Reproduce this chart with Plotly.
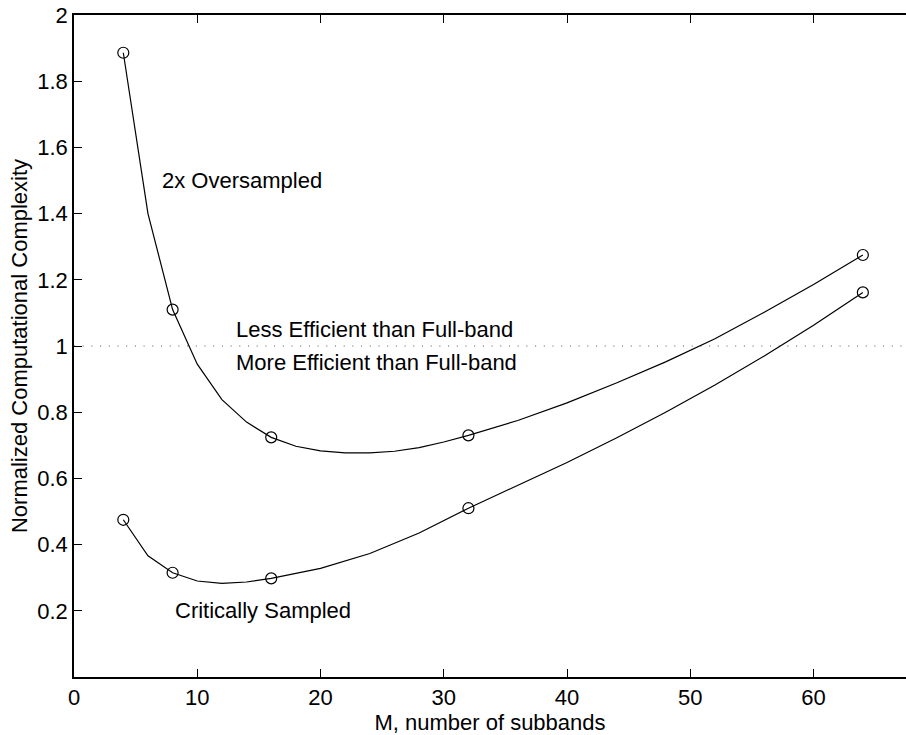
import plotly.graph_objects as go

# Measured points (number of subbands M vs. normalized complexity)
m_points = [4, 8, 16, 32, 64]
oversampled_points = [1.886, 1.11, 0.724, 0.730, 1.275]
critical_points = [0.475, 0.315, 0.298, 0.510, 1.162]

# Finely sampled complexity curves
m_curve_over = [4, 6, 8, 10, 12, 14, 16, 18, 20, 22, 24, 26, 28, 30, 32,
                36, 40, 44, 48, 52, 56, 60, 64]
oversampled_curve = [1.886, 1.40, 1.11, 0.945, 0.838, 0.770, 0.724, 0.697,
                     0.683, 0.677, 0.677, 0.682, 0.693, 0.710, 0.730,
                     0.775, 0.828, 0.888, 0.952, 1.022, 1.102, 1.186, 1.275]
m_curve_crit = [4, 6, 8, 10, 12, 14, 16, 20, 24, 28, 32,
                36, 40, 44, 48, 52, 56, 60, 64]
critical_curve = [0.475, 0.366, 0.315, 0.290, 0.283, 0.287, 0.298, 0.328,
                  0.373, 0.435, 0.510, 0.578, 0.648, 0.722, 0.800, 0.882,
                  0.970, 1.063, 1.162]

# Full-band reference level
fullband_x = [0, 70]
fullband_y = [1.0, 1.0]

x_ticks = [0, 10, 20, 30, 40, 50, 60]
y_ticks = [0.2, 0.4, 0.6, 0.8, 1, 1.2, 1.4, 1.6, 1.8, 2]
y_tick_text = ["0.2", "0.4", "0.6", "0.8", "1", "1.2", "1.4", "1.6", "1.8", "2"]

FONT = "Liberation Sans, Arial, Helvetica, sans-serif"
FS = 22

fig = go.Figure()

fig.add_trace(go.Scatter(x=fullband_x, y=fullband_y, mode="lines",
                         line=dict(color="#555555", width=1, dash="1px,7.7px"),
                         hoverinfo="skip"))
fig.add_trace(go.Scatter(x=m_curve_over, y=oversampled_curve, mode="lines",
                         line=dict(color="black", width=1.2)))
fig.add_trace(go.Scatter(x=m_curve_crit, y=critical_curve, mode="lines",
                         line=dict(color="black", width=1.2)))
fig.add_trace(go.Scatter(x=m_points, y=oversampled_points, mode="markers",
                         marker=dict(symbol="circle-open", size=11,
                                     color="black", line=dict(width=1.2))))
fig.add_trace(go.Scatter(x=m_points, y=critical_points, mode="markers",
                         marker=dict(symbol="circle-open", size=11,
                                     color="black", line=dict(width=1.2))))

labels = [
    (7, 1.5, "2x Oversampled"),
    (13, 1.05, "Less Efficient than Full-band"),
    (13, 0.95, "More Efficient than Full-band"),
    (8, 0.2, "Critically Sampled"),
]
for lx, ly, txt in labels:
    fig.add_annotation(x=lx, y=ly, text=txt, showarrow=False,
                       xanchor="left", yanchor="middle",
                       font=dict(family=FONT, size=FS, color="black"))

fig.update_layout(
    width=906, height=735,
    margin=dict(l=74, r=0, t=15, b=58),
    paper_bgcolor="white", plot_bgcolor="white",
    showlegend=False,
    font=dict(family=FONT, size=FS, color="black"),
    xaxis=dict(range=[0, 67.5], tickvals=x_ticks, ticks="inside", ticklen=8,
               tickcolor="black", tickwidth=1, showline=True,
               linecolor="black", linewidth=1.5, mirror="ticks",
               showgrid=False, zeroline=False,
               title=dict(text="M, number of subbands", standoff=4,
                          font=dict(family=FONT, size=FS))),
    yaxis=dict(range=[0, 2], tickvals=y_ticks, ticktext=y_tick_text,
               ticks="inside", ticklen=8, tickcolor="black", tickwidth=1,
               showline=True, linecolor="black", linewidth=1.5,
               showgrid=False, zeroline=False,
               title=dict(text="Normalized Computational Complexity",
                          standoff=4, font=dict(family=FONT, size=FS))),
)

fig.write_html("out.html")
